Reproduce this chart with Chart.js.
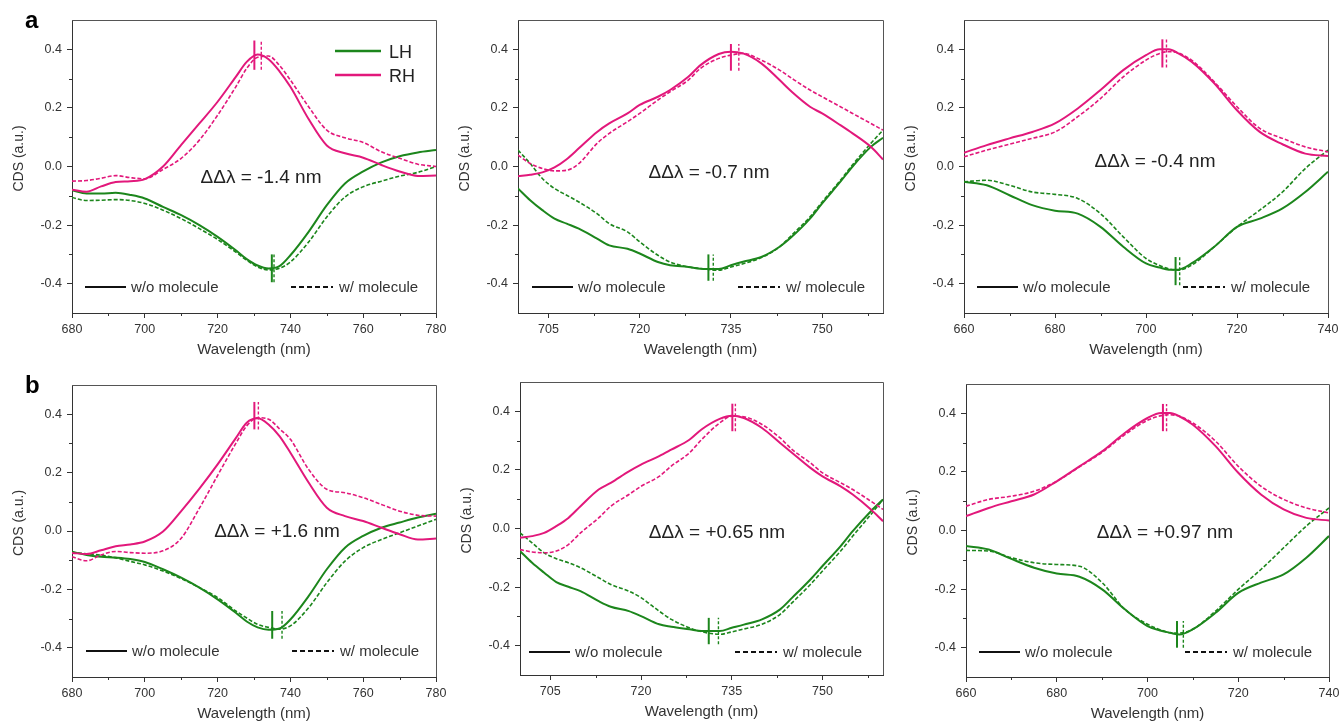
<!DOCTYPE html>
<html>
<head>
<meta charset="utf-8">
<title>CDS spectra</title>
<script src="https://cdn.jsdelivr.net/npm/chart.js@4.4.1/dist/chart.umd.min.js"></script>
<style>
  html, body { margin: 0; padding: 0; background: #fff; }
  #figure { position: relative; width: 1340px; height: 726px; overflow: hidden; background: #fff; }
  #figure canvas { position: absolute; }
</style>
</head>
<body>
<div id="figure"></div>
<script>
// ---- data ----
const wlA = [680, 684, 688, 692, 696, 700, 705, 710, 715, 720, 725, 728, 731, 734, 737, 740, 745, 750, 755, 760, 765, 770, 775, 780];
const wlB = [700, 702, 704, 706, 708, 710, 713, 715, 718, 720, 723, 725, 728, 730, 733, 735, 737, 740, 743, 745, 748, 750, 753, 755, 758, 760];
const wlC = [660, 665, 670, 675, 680, 685, 690, 695, 700, 703, 705, 707, 710, 715, 720, 725, 730, 735, 740];

// row a, panel 1
const a1RhSolid = [-0.079, -0.086, -0.068, -0.053, -0.05, -0.043, 0.0, 0.074, 0.147, 0.221, 0.306, 0.357, 0.382, 0.366, 0.325, 0.272, 0.162, 0.072, 0.045, 0.03, 0.005, -0.017, -0.032, -0.031];
const a1RhDash  = [-0.05, -0.048, -0.04, -0.031, -0.038, -0.042, -0.01, 0.028, 0.09, 0.175, 0.272, 0.335, 0.373, 0.377, 0.345, 0.295, 0.204, 0.124, 0.098, 0.082, 0.05, 0.028, 0.008, 0.0];
const a1LhSolid = [-0.081, -0.092, -0.092, -0.09, -0.097, -0.109, -0.138, -0.166, -0.2, -0.24, -0.286, -0.316, -0.338, -0.348, -0.34, -0.303, -0.223, -0.132, -0.058, -0.017, 0.014, 0.035, 0.048, 0.056];
const a1LhDash  = [-0.106, -0.116, -0.115, -0.113, -0.116, -0.126, -0.149, -0.178, -0.212, -0.249, -0.292, -0.32, -0.343, -0.353, -0.347, -0.326, -0.258, -0.172, -0.104, -0.069, -0.05, -0.033, -0.02, 0.0];

// row a, panel 2
const a2RhSolid = [-0.033, -0.028, -0.02, -0.003, 0.025, 0.062, 0.118, 0.147, 0.181, 0.21, 0.238, 0.261, 0.306, 0.346, 0.384, 0.392, 0.386, 0.352, 0.295, 0.255, 0.204, 0.181, 0.141, 0.113, 0.067, 0.024];
const a2RhDash  = [0.039, 0.01, -0.007, -0.015, -0.013, 0.01, 0.079, 0.113, 0.153, 0.181, 0.227, 0.255, 0.295, 0.335, 0.369, 0.38, 0.386, 0.363, 0.329, 0.301, 0.261, 0.238, 0.204, 0.181, 0.147, 0.124];
const a2LhSolid = [-0.075, -0.115, -0.149, -0.178, -0.195, -0.212, -0.246, -0.269, -0.281, -0.297, -0.326, -0.337, -0.343, -0.349, -0.35, -0.337, -0.325, -0.309, -0.274, -0.24, -0.178, -0.126, -0.052, 0.0, 0.067, 0.098];
const a2LhDash  = [0.056, 0.01, -0.041, -0.075, -0.098, -0.121, -0.161, -0.195, -0.223, -0.257, -0.303, -0.326, -0.343, -0.348, -0.354, -0.343, -0.332, -0.311, -0.274, -0.234, -0.172, -0.121, -0.047, 0.006, 0.079, 0.124];

// row a, panel 3
const a3RhSolid = [0.047, 0.073, 0.096, 0.118, 0.147, 0.198, 0.261, 0.329, 0.38, 0.4, 0.4, 0.387, 0.358, 0.284, 0.192, 0.118, 0.076, 0.044, 0.036];
const a3RhDash  = [0.033, 0.056, 0.076, 0.096, 0.118, 0.17, 0.232, 0.306, 0.363, 0.386, 0.392, 0.388, 0.363, 0.289, 0.204, 0.13, 0.096, 0.067, 0.05];
const a3LhSolid = [-0.052, -0.064, -0.098, -0.132, -0.151, -0.161, -0.206, -0.274, -0.331, -0.345, -0.352, -0.352, -0.331, -0.274, -0.206, -0.178, -0.143, -0.087, -0.018];
const a3LhDash  = [-0.052, -0.047, -0.064, -0.087, -0.095, -0.109, -0.161, -0.24, -0.314, -0.338, -0.349, -0.354, -0.337, -0.274, -0.206, -0.149, -0.087, -0.007, 0.056];

// row b, panel 1
const b1RhSolid = [-0.075, -0.079, -0.066, -0.052, -0.046, -0.036, -0.002, 0.068, 0.145, 0.228, 0.318, 0.371, 0.386, 0.365, 0.325, 0.268, 0.166, 0.08, 0.051, 0.034, 0.011, -0.011, -0.029, -0.026];
const b1RhDash  = [-0.088, -0.102, -0.082, -0.07, -0.074, -0.076, -0.068, -0.025, 0.078, 0.19, 0.3, 0.36, 0.388, 0.383, 0.35, 0.314, 0.211, 0.143, 0.131, 0.114, 0.091, 0.068, 0.054, 0.051];
const b1LhSolid = [-0.071, -0.082, -0.088, -0.091, -0.096, -0.106, -0.131, -0.16, -0.194, -0.234, -0.28, -0.31, -0.33, -0.338, -0.334, -0.303, -0.223, -0.131, -0.057, -0.017, 0.011, 0.029, 0.046, 0.059];
const b1LhDash  = [-0.074, -0.078, -0.083, -0.092, -0.104, -0.116, -0.137, -0.163, -0.194, -0.228, -0.274, -0.298, -0.32, -0.33, -0.336, -0.325, -0.263, -0.177, -0.103, -0.057, -0.029, -0.006, 0.017, 0.04];

// row b, panel 2
const b2RhSolid = [-0.032, -0.026, -0.015, 0.008, 0.036, 0.076, 0.133, 0.156, 0.195, 0.218, 0.247, 0.269, 0.303, 0.338, 0.374, 0.385, 0.377, 0.343, 0.292, 0.258, 0.207, 0.178, 0.144, 0.116, 0.065, 0.025];
const b2RhDash  = [-0.072, -0.08, -0.083, -0.077, -0.055, -0.015, 0.036, 0.076, 0.116, 0.144, 0.178, 0.213, 0.258, 0.303, 0.36, 0.383, 0.381, 0.355, 0.309, 0.269, 0.224, 0.19, 0.156, 0.133, 0.093, 0.065];
const b2LhSolid = [-0.077, -0.117, -0.151, -0.183, -0.199, -0.214, -0.248, -0.267, -0.282, -0.299, -0.327, -0.335, -0.344, -0.35, -0.35, -0.339, -0.328, -0.31, -0.276, -0.236, -0.174, -0.128, -0.06, -0.009, 0.059, 0.099];
const b2LhDash  = [-0.015, -0.049, -0.083, -0.103, -0.117, -0.134, -0.168, -0.191, -0.214, -0.236, -0.282, -0.31, -0.339, -0.352, -0.361, -0.353, -0.343, -0.327, -0.293, -0.253, -0.191, -0.145, -0.077, -0.026, 0.048, 0.099];

// row b, panel 3
const b3RhSolid = [0.049, 0.077, 0.1, 0.123, 0.168, 0.219, 0.27, 0.333, 0.384, 0.401, 0.401, 0.39, 0.361, 0.288, 0.197, 0.123, 0.072, 0.043, 0.034];
const b3RhDash  = [0.083, 0.106, 0.117, 0.134, 0.168, 0.217, 0.267, 0.327, 0.376, 0.392, 0.395, 0.39, 0.367, 0.305, 0.219, 0.151, 0.106, 0.077, 0.06];
const b3LhSolid = [-0.053, -0.065, -0.097, -0.127, -0.147, -0.158, -0.201, -0.269, -0.326, -0.342, -0.349, -0.355, -0.337, -0.281, -0.213, -0.178, -0.15, -0.093, -0.019];
const b3LhDash  = [-0.068, -0.07, -0.093, -0.11, -0.116, -0.122, -0.178, -0.269, -0.32, -0.34, -0.349, -0.35, -0.337, -0.275, -0.201, -0.133, -0.059, 0.015, 0.077];

// peak markers: [solid wavelength, dashed wavelength], value span
const a1Peaks = { rh: [730.1, 732.0], rhSpan: [0.33, 0.43], lh: [734.9, 735.5], lhSpan: [-0.395, -0.30] };
const a2Peaks = { rh: [735.0, 736.3], rhSpan: [0.327, 0.418], lh: [731.3, 732.1], lhSpan: [-0.39, -0.30] };
const a3Peaks = { rh: [703.6, 704.5], rhSpan: [0.338, 0.434], lh: [706.5, 707.4], lhSpan: [-0.405, -0.309] };
const b1Peaks = { rh: [730.1, 731.2], rhSpan: [0.348, 0.442], lh: [735.0, 737.7], lhSpan: [-0.369, -0.274] };
const b2Peaks = { rh: [735.1, 735.6], rhSpan: [0.332, 0.426], lh: [731.2, 732.8], lhSpan: [-0.395, -0.305] };
const b3Peaks = { rh: [703.4, 704.2], rhSpan: [0.339, 0.432], lh: [706.5, 707.9], lhSpan: [-0.40, -0.309] };

const shiftLabels = ['ΔΔλ = -1.4 nm', 'ΔΔλ = -0.7 nm', 'ΔΔλ = -0.4 nm', 'ΔΔλ = +1.6 nm', 'ΔΔλ = +0.65 nm', 'ΔΔλ = +0.97 nm'];

const ticksWide = [680, 700, 720, 740, 760, 780];
const minorWide = [690, 710, 730, 750, 770];
const ticksNarrow = [705, 720, 735, 750];
const minorNarrow = [712.5, 727.5, 742.5, 757.5];
const ticksBlue = [660, 680, 700, 720, 740];
const minorBlue = [670, 690, 710, 730];
const yTicks = [-0.4, -0.2, 0, 0.2, 0.4];
const yMinor = [-0.3, -0.1, 0.1, 0.3];

// ---- styling / layout ----
const LH_COLOR = '#1c861c';
const RH_COLOR = '#e2187b';
const AXIS_COLOR = '#333';
const FONT = '"Liberation Sans", Arial, sans-serif';

Chart.defaults.font.family = FONT;
Chart.defaults.color = AXIS_COLOR;
Chart.defaults.animation = false;

const AXIS_W = 72, PAD_TOP = 20, PAD_RIGHT = 16, AXIS_H = 60;

const panels = [
  { left: 72, top: 20, w: 364, h: 293, range: [680, 780], major: ticksWide, minor: minorWide, wl: wlA,
    rhS: a1RhSolid, rhD: a1RhDash, lhS: a1LhSolid, lhD: a1LhDash, peaks: a1Peaks,
    shift: shiftLabels[0], shiftAt: [189, 158], hands: true, letter: 'a', wo: [13, 267] },
  { left: 518, top: 20, w: 365, h: 293, range: [700, 760], major: ticksNarrow, minor: minorNarrow, wl: wlB,
    rhS: a2RhSolid, rhD: a2RhDash, lhS: a2LhSolid, lhD: a2LhDash, peaks: a2Peaks,
    shift: shiftLabels[1], shiftAt: [191, 153], wo: [14, 267] },
  { left: 964, top: 20, w: 364, h: 293, range: [660, 740], major: ticksBlue, minor: minorBlue, wl: wlC,
    rhS: a3RhSolid, rhD: a3RhDash, lhS: a3LhSolid, lhD: a3LhDash, peaks: a3Peaks,
    shift: shiftLabels[2], shiftAt: [191, 142], wo: [13, 267] },
  { left: 72, top: 385, w: 364, h: 292, range: [680, 780], major: ticksWide, minor: minorWide, wl: wlA,
    rhS: b1RhSolid, rhD: b1RhDash, lhS: b1LhSolid, lhD: b1LhDash, peaks: b1Peaks,
    shift: shiftLabels[3], shiftAt: [205, 147], letter: 'b', wo: [14, 266] },
  { left: 520, top: 382, w: 363, h: 293, range: [700, 760], major: ticksNarrow, minor: minorNarrow, wl: wlB,
    rhS: b2RhSolid, rhD: b2RhDash, lhS: b2LhSolid, lhD: b2LhDash, peaks: b2Peaks,
    shift: shiftLabels[4], shiftAt: [197, 151], wo: [9, 270] },
  { left: 966, top: 384, w: 363, h: 293, range: [660, 740], major: ticksBlue, minor: minorBlue, wl: wlC,
    rhS: b3RhSolid, rhD: b3RhDash, lhS: b3LhSolid, lhD: b3LhDash, peaks: b3Peaks,
    shift: shiftLabels[5], shiftAt: [199, 149], wo: [13, 268] }
];

// frame, minor ticks, y title and in-plot labels
const decorPlugin = {
  id: 'decor',
  afterDraw(chart, args, opts) {
    const p = opts.panel;
    const { ctx, chartArea: ca } = chart;
    const xs = chart.scales.x, ys = chart.scales.y;
    ctx.save();

    // top / right frame
    ctx.strokeStyle = '#555';
    ctx.lineWidth = 1;
    ctx.beginPath();
    ctx.moveTo(ca.left, Math.round(ca.top) + 0.5);
    ctx.lineTo(Math.round(ca.right) + 0.5, Math.round(ca.top) + 0.5);
    ctx.lineTo(Math.round(ca.right) + 0.5, ca.bottom);
    ctx.stroke();

    // minor ticks
    ctx.strokeStyle = AXIS_COLOR;
    ctx.beginPath();
    p.minor.forEach(v => {
      const px = Math.round(xs.getPixelForValue(v)) + 0.5;
      ctx.moveTo(px, ca.bottom);
      ctx.lineTo(px, ca.bottom + 3);
    });
    yMinor.forEach(v => {
      const py = Math.round(ys.getPixelForValue(v)) + 0.5;
      ctx.moveTo(ca.left, py);
      ctx.lineTo(ca.left - 3, py);
    });
    ctx.stroke();

    // y axis title, sitting a little above the middle as in the original
    ctx.save();
    ctx.translate(19, (ca.top + ca.bottom) / 2 - 8);
    ctx.rotate(-Math.PI / 2);
    ctx.fillStyle = '#333';
    ctx.font = '14px ' + FONT;
    ctx.textAlign = 'center';
    ctx.textBaseline = 'middle';
    ctx.fillText('CDS (a.u.)', 0, 0);
    ctx.restore();

    // w/o and w/ molecule keys
    const [kx, ky] = p.wo;
    ctx.lineWidth = 2;
    ctx.strokeStyle = '#111';
    ctx.beginPath();
    ctx.moveTo(ca.left + kx, ca.top + ky);
    ctx.lineTo(ca.left + kx + 41, ca.top + ky);
    ctx.stroke();
    ctx.setLineDash([5, 3]);
    ctx.beginPath();
    ctx.moveTo(ca.left + kx + 206, ca.top + ky);
    ctx.lineTo(ca.left + kx + 248, ca.top + ky);
    ctx.stroke();
    ctx.setLineDash([]);
    ctx.fillStyle = '#333';
    ctx.font = '15px ' + FONT;
    ctx.textAlign = 'left';
    ctx.textBaseline = 'alphabetic';
    ctx.fillText('w/o molecule', ca.left + kx + 46, ca.top + ky + 5);
    ctx.fillText('w/ molecule', ca.left + kx + 254, ca.top + ky + 5);

    // shift label
    ctx.font = '19px ' + FONT;
    ctx.fillStyle = '#222';
    ctx.textAlign = 'center';
    ctx.textBaseline = 'middle';
    ctx.fillText(p.shift, ca.left + p.shiftAt[0], ca.top + p.shiftAt[1]);

    // LH / RH key
    if (p.hands) {
      ctx.lineWidth = 2.5;
      [[LH_COLOR, 'LH', 31], [RH_COLOR, 'RH', 55]].forEach(([c, t, dy]) => {
        ctx.strokeStyle = c;
        ctx.beginPath();
        ctx.moveTo(ca.left + 263, ca.top + dy);
        ctx.lineTo(ca.left + 309, ca.top + dy);
        ctx.stroke();
        ctx.fillStyle = '#222';
        ctx.font = '18px ' + FONT;
        ctx.textAlign = 'left';
        ctx.textBaseline = 'alphabetic';
        ctx.fillText(t, ca.left + 317, ca.top + dy + 7);
      });
    }

    // panel letter
    if (p.letter) {
      ctx.fillStyle = '#000';
      ctx.font = 'bold 24px ' + FONT;
      ctx.textAlign = 'left';
      ctx.textBaseline = 'alphabetic';
      ctx.fillText(p.letter, 25, 28);
    }
    ctx.restore();
  }
};

function curve(wl, vals, color, dashed) {
  return {
    data: wl.map((x, i) => ({ x, y: vals[i] })),
    borderColor: color,
    borderWidth: dashed ? 1.6 : 2,
    borderDash: dashed ? [4, 2] : [],
    pointRadius: 0,
    cubicInterpolationMode: 'monotone',
    fill: false
  };
}

function marker(x, span, color, dashed) {
  return {
    data: [{ x, y: span[0] }, { x, y: span[1] }],
    borderColor: color,
    borderWidth: dashed ? 1.4 : 2,
    borderDash: dashed ? [3, 2] : [],
    pointRadius: 0,
    fill: false
  };
}

const figure = document.getElementById('figure');

panels.forEach(p => {
  const canvas = document.createElement('canvas');
  const cw = p.w + AXIS_W + PAD_RIGHT;
  const ch = p.h + PAD_TOP + AXIS_H;
  canvas.width = cw;
  canvas.height = ch;
  canvas.style.left = (p.left - AXIS_W) + 'px';
  canvas.style.top = (p.top - PAD_TOP) + 'px';
  canvas.style.width = cw + 'px';
  canvas.style.height = ch + 'px';
  figure.appendChild(canvas);

  const datasets = [
    curve(p.wl, p.rhS, RH_COLOR, false),
    curve(p.wl, p.rhD, RH_COLOR, true),
    curve(p.wl, p.lhS, LH_COLOR, false),
    curve(p.wl, p.lhD, LH_COLOR, true),
    marker(p.peaks.rh[0], p.peaks.rhSpan, RH_COLOR, false),
    marker(p.peaks.rh[1], p.peaks.rhSpan, RH_COLOR, true),
    marker(p.peaks.lh[0], p.peaks.lhSpan, LH_COLOR, false),
    marker(p.peaks.lh[1], p.peaks.lhSpan, LH_COLOR, true)
  ];

  new Chart(canvas, {
    type: 'line',
    data: { datasets },
    options: {
      responsive: false,
      devicePixelRatio: 1,
      layout: { padding: { left: 0, top: PAD_TOP, right: PAD_RIGHT, bottom: 0 } },
      plugins: { legend: { display: false }, tooltip: { enabled: false }, decor: { panel: p } },
      scales: {
        x: {
          type: 'linear',
          min: p.range[0],
          max: p.range[1],
          afterBuildTicks: s => { s.ticks = p.major.map(v => ({ value: v })); },
          afterFit: s => { s.height = AXIS_H; },
          ticks: { autoSkip: false, maxRotation: 0, padding: 4, font: { size: 12.5 }, color: '#333' },
          grid: { drawOnChartArea: false, drawTicks: true, tickLength: 5, color: AXIS_COLOR },
          border: { display: true, color: AXIS_COLOR, width: 1 },
          title: { display: true, text: 'Wavelength (nm)', font: { size: 15 }, color: '#333', padding: { top: 0, bottom: 14 } }
        },
        y: {
          type: 'linear',
          min: -0.5,
          max: 0.5,
          afterBuildTicks: s => { s.ticks = yTicks.map(v => ({ value: v })); },
          afterFit: s => { s.width = AXIS_W; },
          ticks: { autoSkip: false, padding: 5, font: { size: 12.5 }, color: '#333', callback: v => v.toFixed(1) },
          grid: { drawOnChartArea: false, drawTicks: true, tickLength: 5, color: AXIS_COLOR },
          border: { display: true, color: AXIS_COLOR, width: 1 },
          title: { display: false }
        }
      }
    },
    plugins: [decorPlugin]
  });
});
</script>
</body>
</html>
